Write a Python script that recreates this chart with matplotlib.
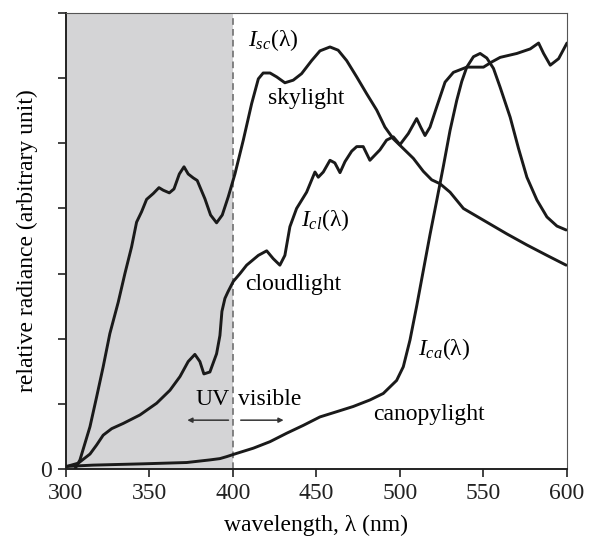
import matplotlib
matplotlib.use("Agg")
import matplotlib.pyplot as plt
import matplotlib.font_manager as fm

# ---- data ----
sky_wl = [305.4, 308.4, 314.4, 318.4, 322.3, 326.3, 331.3, 335.3, 339.3, 342.3, 345.3, 348.3, 352.3, 355.7,
          358.3, 361.9, 364.7, 367.9, 370.7, 373.2, 376.2, 378.6, 383.2, 386.6, 390.2, 393.6, 397.2, 401.2,
          406.2, 411.2, 415.2, 418.1, 422.2, 426.2, 431.1, 436.1, 441.1, 447.1, 452.1, 458.1, 463, 468.1,
          474.1, 480.1, 486.1, 491, 496, 502, 508, 514, 519, 524, 530, 538, 550, 564, 576, 588, 599.5]
sky_val = [0.0, 0.14, 0.65, 1.11, 1.57, 2.08, 2.56, 3.0, 3.41, 3.79, 3.95, 4.14, 4.23, 4.32,
           4.28, 4.24, 4.3, 4.53, 4.64, 4.53, 4.47, 4.43, 4.15, 3.9, 3.78, 3.9, 4.18, 4.53,
           5.05, 5.61, 5.99, 6.08, 6.08, 6.02, 5.93, 5.97, 6.07, 6.27, 6.42, 6.48, 6.43, 6.27,
           6.02, 5.76, 5.51, 5.25, 5.07, 4.92, 4.77, 4.57, 4.44, 4.38, 4.25, 4.0, 3.82, 3.61, 3.44, 3.28, 3.13]

cl_wl = [300.4, 307.4, 314.4, 318.4, 322.3, 327.4, 334.3, 344.3, 354.3, 362.3, 368.3, 373.2, 377.2, 380.2,
         382.6, 386.2, 390.2, 392.2, 393.4, 395.2, 397, 400.2, 404.2, 408.2, 415.2, 420.2, 424.1, 428.1,
         431.1, 434.1, 438.1, 444.1, 449.1, 451.1, 454.1, 458.1, 461, 464.1, 467.1, 471.1, 474.1, 478,
         482, 488, 492, 496, 500, 505, 510, 512.4, 515, 518, 522, 527, 532, 540, 550, 555, 560, 570, 578,
         583, 586, 590, 595, 600]
cl_val = [0.04, 0.09, 0.23, 0.37, 0.52, 0.62, 0.7, 0.83, 1.01, 1.21, 1.42, 1.65, 1.76, 1.65,
          1.46, 1.49, 1.77, 2.05, 2.42, 2.62, 2.72, 2.88, 3.0, 3.13, 3.28, 3.35, 3.23, 3.13,
          3.28, 3.72, 4.0, 4.25, 4.56, 4.48, 4.56, 4.74, 4.7, 4.55, 4.72, 4.88, 4.95, 4.95,
          4.74, 4.9, 5.05, 5.1, 4.98, 5.15, 5.38, 5.25, 5.12, 5.25, 5.56, 5.94, 6.09, 6.17, 6.17, 6.25, 6.32, 6.38, 6.45,
          6.54, 6.38, 6.2, 6.3, 6.54]

ca_wl = [300.4, 316.3, 346.3, 372.3, 386.2, 392.2, 396.2, 402.2, 412.2, 422.2, 432.2, 442.1, 452.1, 462.1,
         472, 482, 490, 494, 498, 502, 506, 510, 514, 518, 522, 526, 530, 534, 537, 540, 544, 548, 552,
         556, 560, 566, 571, 576, 582, 588, 594, 599.5]
ca_val = [0.04, 0.06, 0.08, 0.1, 0.14, 0.16, 0.19, 0.24, 0.32, 0.42, 0.55, 0.67, 0.8, 0.88,
          0.96, 1.06, 1.16, 1.26, 1.36, 1.57, 1.98, 2.5, 3.05, 3.6, 4.12, 4.65, 5.2, 5.66, 5.95, 6.17, 6.33, 6.38, 6.31,
          6.15, 5.86, 5.4, 4.92, 4.48, 4.13, 3.87, 3.73, 3.67]

x_ticks = [300, 350, 400, 450, 500, 550, 600]
y_ticks = [0, 1, 2, 3, 4, 5, 6, 7]
y_tick_labels = ["0", "", "", "", "", "", "", ""]

# ---- fonts: Times-like serif ----
for f in fm.findSystemFonts():
    if 'LiberationSerif' in f.replace(' ', ''):
        try:
            fm.fontManager.addfont(f)
        except Exception:
            pass
names = {f.name for f in fm.fontManager.ttflist}
serif = next((n for n in ['Liberation Serif', 'Times New Roman', 'Tinos', 'Nimbus Roman', 'DejaVu Serif']
              if n in names), 'serif')

plt.rcParams['font.family'] = [serif, 'DejaVu Serif']
plt.rcParams['mathtext.fontset'] = 'custom'
plt.rcParams['mathtext.rm'] = serif
plt.rcParams['mathtext.it'] = serif + ':italic'

fig = plt.figure(figsize=(5.94, 5.45), dpi=100)
ax = fig.add_axes([0.111, 0.1394, 0.8435, 0.8366])

ax.axvspan(300, 400, color='#d4d4d6', zorder=0, lw=0)
ax.axvline(400, color='#707070', ls=(0, (4, 2.5)), lw=1.2, zorder=1)

lc = '#1a1a1a'
for wl, val in [(sky_wl, sky_val), (cl_wl, cl_val), (ca_wl, ca_val)]:
    ax.plot(wl, val, color=lc, lw=2.1, zorder=3, solid_capstyle='round', solid_joinstyle='round')

ax.set_xlim(300, 600)
ax.set_ylim(0, 7)
ax.set_xticks(x_ticks)
ax.set_yticks(y_ticks)
ax.set_yticklabels(y_tick_labels)
ax.tick_params(direction='out', length=6, width=1.2, labelsize=17, colors='#222222', pad=4)

for s in ['left', 'bottom']:
    ax.spines[s].set_linewidth(1.4)
    ax.spines[s].set_color('#222222')
for s in ['top', 'right']:
    ax.spines[s].set_linewidth(0.8)
    ax.spines[s].set_color('#555555')

ax.set_xlabel('wavelength, λ (nm)', fontsize=17, labelpad=8)
ax.set_ylabel('relative radiance (arbitrary unit)', fontsize=17, labelpad=2)

fs = 17
ax.text(409, 6.58, r'$I_{sc}$(λ)', fontsize=fs, va='center', ha='left')
ax.text(421, 5.69, 'skylight', fontsize=fs, va='center', ha='left')
ax.text(441, 3.82, r'$I_{cl}$(λ)', fontsize=fs, va='center', ha='left')
ax.text(407, 2.84, 'cloudlight', fontsize=fs, va='center', ha='left')
ax.text(511, 1.84, r'$I_{ca}$(λ)', fontsize=fs, va='center', ha='left')
ax.text(484, 0.84, 'canopylight', fontsize=fs, va='center', ha='left')
ax.text(398, 1.06, 'UV', fontsize=fs, va='center', ha='right')
ax.text(403, 1.06, 'visible', fontsize=fs, va='center', ha='left')

ax.annotate('', xy=(371, 0.75), xytext=(399, 0.75),
            arrowprops=dict(arrowstyle='-|>', color='#333333', lw=1.1, mutation_scale=7))
ax.annotate('', xy=(432, 0.75), xytext=(403, 0.75),
            arrowprops=dict(arrowstyle='-|>', color='#333333', lw=1.1, mutation_scale=7))

fig.savefig('out.png', dpi=100)
